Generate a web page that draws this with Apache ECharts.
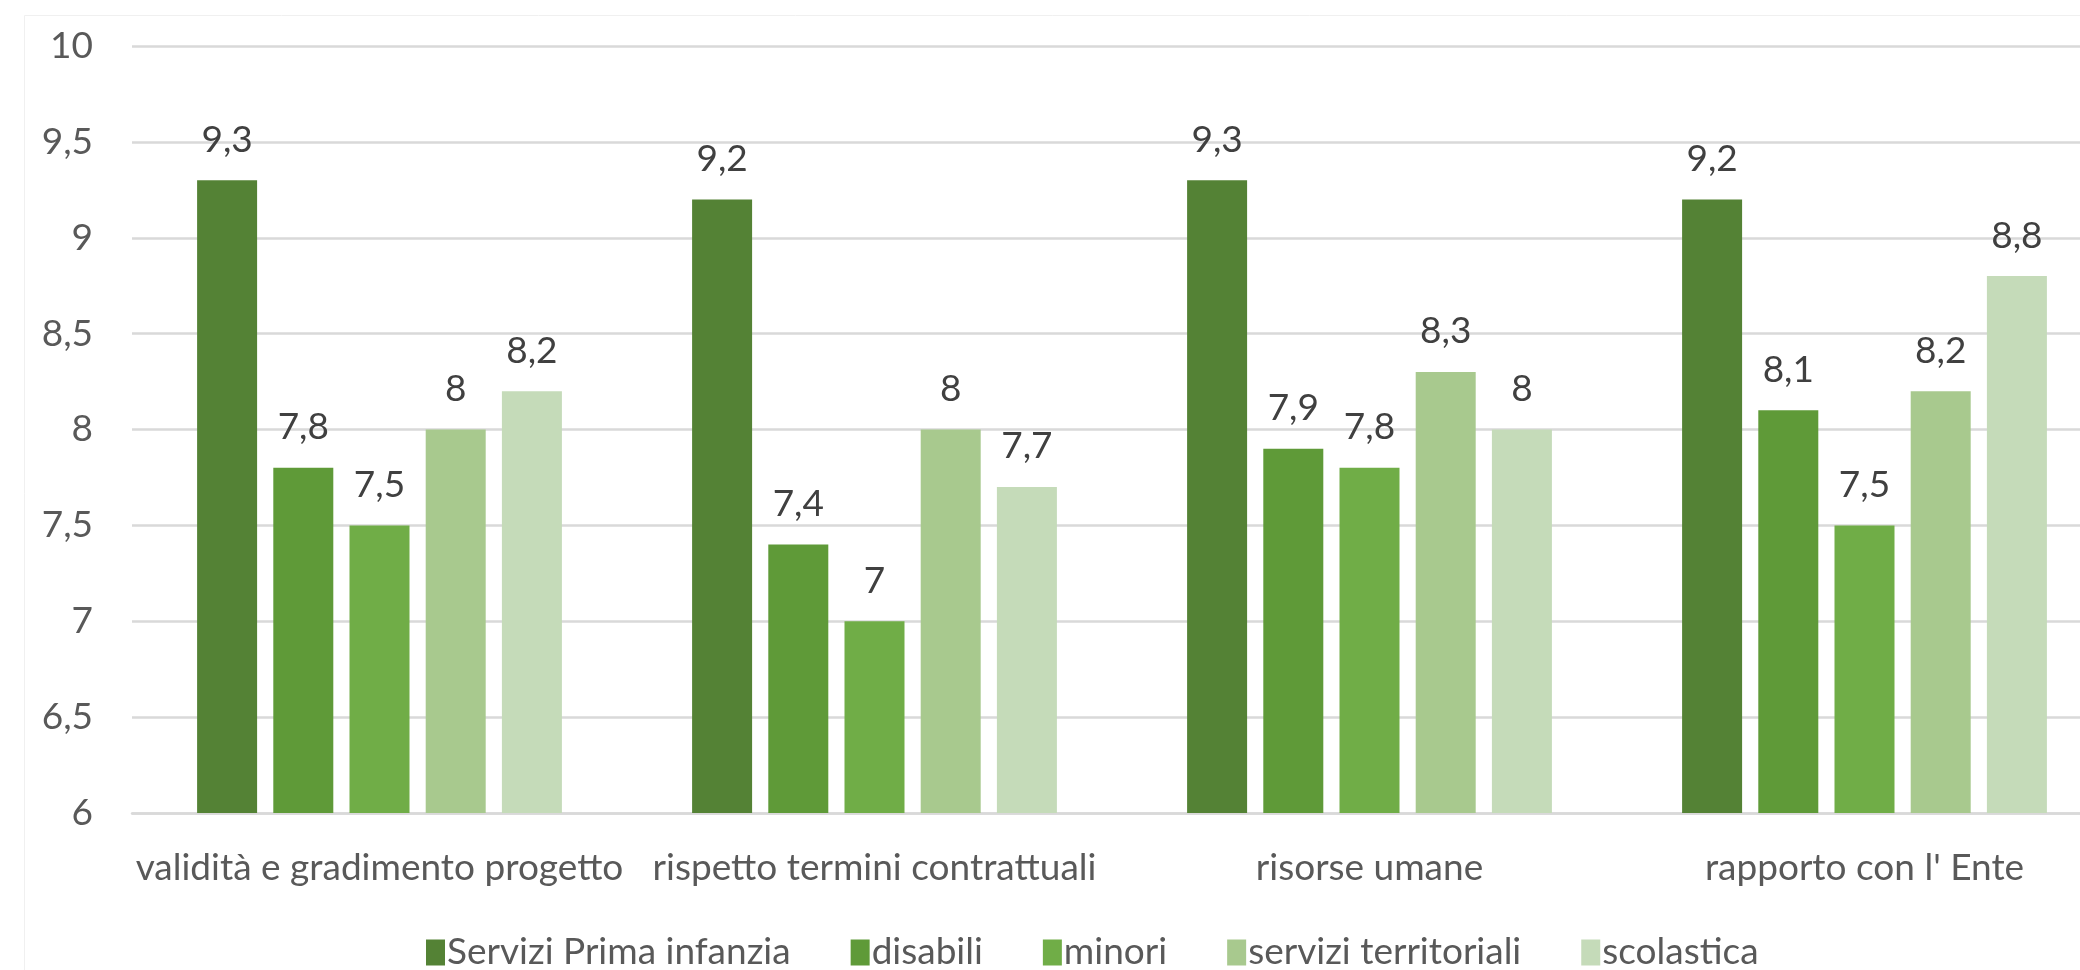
<!DOCTYPE html>
<html>
<head>
<meta charset="utf-8">
<script src="https://cdn.jsdelivr.net/npm/echarts@6/dist/echarts.min.js"></script>
<style>
html,body{margin:0;padding:0;background:#fff;}
#c{width:2080px;height:970px;}
</style>
</head>
<body>
<div id="c"></div>
<script>
const categories = ['validità e gradimento progetto', 'rispetto termini contrattuali', 'risorse umane', "rapporto con l' Ente"];
const seriesNames = ['Servizi Prima infanzia', 'disabili', 'minori', 'servizi territoriali', 'scolastica'];
const primaInfanzia = [9.3, 9.2, 9.3, 9.2];
const disabili = [7.8, 7.4, 7.9, 8.1];
const minori = [7.5, 7.0, 7.8, 7.5];
const serviziTerritoriali = [8.0, 8.0, 8.3, 8.2];
const scolastica = [8.2, 7.7, 8.0, 8.8];
const yTicks = [6, 6.5, 7, 7.5, 8, 8.5, 9, 9.5, 10];

const colors = ['#548235', '#5f9a38', '#70ad47', '#a8c98e', '#c5dbb9'];
const values = [primaInfanzia, disabili, minori, serviziTerritoriali, scolastica];
const FONT = 'Lato';
const fmt = v => String(v).replace('.', ',');

const chart = echarts.init(document.getElementById('c'));
chart.setOption({
  animation: false,
  backgroundColor: '#fff',
  textStyle: { fontFamily: FONT },
  color: colors,
  graphic: [{
    type: 'rect', left: 22, top: 13, shape: { width: 2100, height: 1000 },
    style: { fill: 'none', stroke: '#f0f0f0', lineWidth: 1 }, z: -1
  }],
  grid: { left: 132, top: 46, width: 1980, bottom: 157, containLabel: false, outerBoundsMode: 'none' },
  legend: {
    data: seriesNames,
    bottom: -6,
    left: 421,
    icon: 'rect',
    itemWidth: 19,
    itemHeight: 26,
    itemGap: 60,
    textStyle: { fontFamily: FONT, fontSize: 37, color: '#595959', padding: [0, 0, 0, -3] }
  },
  xAxis: {
    type: 'category',
    data: categories,
    axisTick: { show: false },
    axisLine: { lineStyle: { color: '#d9d9d9', width: 2.5 } },
    axisLabel: { fontFamily: FONT, fontSize: 37, color: '#595959', margin: 37, interval: 0 }
  },
  yAxis: {
    type: 'value',
    min: yTicks[0],
    max: yTicks[yTicks.length - 1],
    interval: 0.5,
    axisLine: { show: false },
    axisTick: { show: false },
    splitLine: { lineStyle: { color: '#d9d9d9', width: 2.5 } },
    axisLabel: { fontFamily: FONT, fontSize: 37, color: '#595959', margin: 39, formatter: v => fmt(v) }
  },
  series: seriesNames.map((name, i) => ({
    name: name,
    type: 'bar',
    data: values[i],
    barWidth: 60,
    barGap: '27%',
    itemStyle: { color: colors[i] },
    label: {
      show: true,
      position: 'top',
      distance: 22,
      fontFamily: FONT,
      fontSize: 37,
      color: '#404040',
      formatter: p => fmt(p.value)
    }
  }))
});
</script>
</body>
</html>
